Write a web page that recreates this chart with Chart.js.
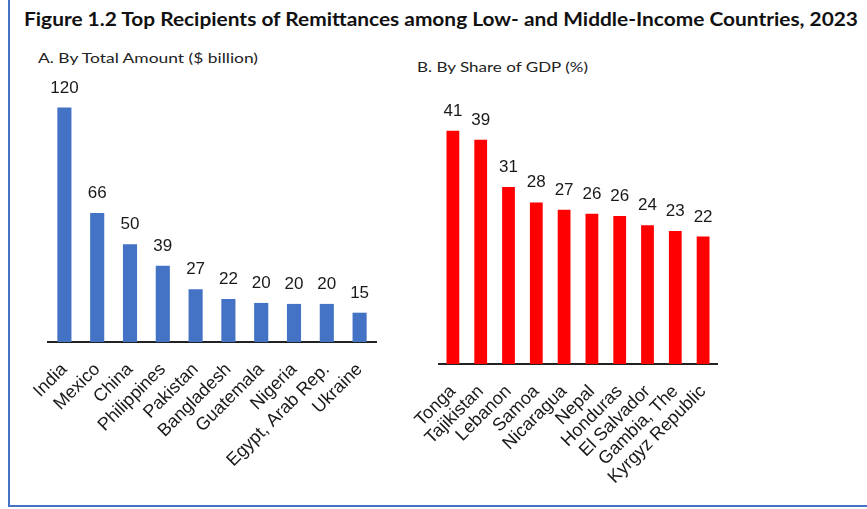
<!DOCTYPE html>
<html>
<head>
<meta charset="utf-8">
<script src="https://cdn.jsdelivr.net/npm/chart.js@4.4.1/dist/chart.umd.min.js"></script>
<style>
  html, body { margin: 0; padding: 0; background: #fff; }
  body { width: 867px; height: 509px; position: relative; overflow: hidden; }
  #frame { position: absolute; left: 8px; top: -4px; width: 870px; height: 511px;
           border-left: 2px solid #4472C4; border-bottom: 2px solid #4472C4; box-sizing: border-box; }
  .txt { position: absolute; white-space: nowrap; transform-origin: 0 0; color: #111; }
  #title { left: 24px; top: 8px; font: bold 18px Lato, "Open Sans", sans-serif; }
  #subA { left: 38px; top: 49px; font: 14px Lato, "Open Sans", sans-serif; color: #222; }
  #subB { left: 417px; top: 58px; font: 14px Lato, "Open Sans", sans-serif; color: #222; }
  #wrapA { position: absolute; left: 0; top: 0; width: 400px; height: 509px; }
  #wrapB { position: absolute; left: 380px; top: 0; width: 487px; height: 509px; }
</style>
</head>
<body>
<div id="frame"></div>
<div class="txt" id="title" data-w="834">Figure 1.2 Top Recipients of Remittances among Low- and Middle-Income Countries, 2023</div>
<div class="txt" id="subA" data-w="220">A. By Total Amount ($ billion)</div>
<div class="txt" id="subB" data-w="171">B. By Share of GDP (%)</div>
<div id="wrapA"><canvas id="chartA" width="400" height="509"></canvas></div>
<div id="wrapB"><canvas id="chartB" width="487" height="509"></canvas></div>
<script>
// ---- Data ----
const amountCountries = ['India', 'Mexico', 'China', 'Philippines', 'Pakistan', 'Bangladesh', 'Guatemala', 'Nigeria', 'Egypt, Arab Rep.', 'Ukraine'];
const amountValues = [120, 66, 50, 39, 27, 22, 20, 19.5, 19.5, 15];
const gdpCountries = ['Tonga', 'Tajikistan', 'Lebanon', 'Samoa', 'Nicaragua', 'Nepal', 'Honduras', 'El Salvador', 'Gambia, The', 'Kyrgyz Republic'];
const gdpValues = [41.0, 39.4, 31.1, 28.4, 27.1, 26.4, 26.0, 24.4, 23.4, 22.4];

// fit header texts to their measured widths
document.querySelectorAll('.txt').forEach(el => {
  const w = el.getBoundingClientRect().width;
  const target = +el.dataset.w;
  el.style.transform = 'scaleX(' + (target / w) + ')';
});

const labelPlugin = {
  id: 'valueLabels',
  afterDatasetsDraw(chart) {
    const ctx = chart.ctx;
    const meta = chart.getDatasetMeta(0);
    const data = chart.data.datasets[0].data;
    ctx.save();
    ctx.font = '17px "Liberation Sans", Arial, sans-serif';
    ctx.fillStyle = '#1a1a1a';
    ctx.textAlign = 'center';
    ctx.textBaseline = 'alphabetic';
    meta.data.forEach((bar, i) => {
      ctx.fillText(String(Math.round(data[i])), bar.x, bar.y - 15);
    });
    ctx.restore();
  }
};

function makeChart(id, labels, values, color, opts) {
  return new Chart(document.getElementById(id), {
    type: 'bar',
    data: {
      labels: labels,
      datasets: [{
        data: values,
        backgroundColor: color,
        borderWidth: 0,
        barPercentage: opts.barPct,
        categoryPercentage: 1.0
      }]
    },
    options: {
      responsive: false,
      animation: false,
      events: [],
      layout: { padding: { left: opts.left, right: opts.right, top: opts.top, bottom: 0 } },
      plugins: { legend: { display: false }, tooltip: { enabled: false }, title: { display: false } },
      scales: {
        x: {
          grid: { display: false, drawTicks: false },
          border: { display: true, color: '#222', width: 2 },
          ticks: {
            minRotation: 45, maxRotation: 45, autoSkip: false, padding: opts.tickPad,
            color: '#1a1a1a',
            font: { family: '"Liberation Sans", Arial, sans-serif', size: 18 }
          },
          afterFit: (s) => { s.height = opts.axisH; }
        },
        y: {
          display: false,
          min: 0,
          max: opts.ymax
        }
      }
    },
    plugins: [labelPlugin]
  });
}

makeChart('chartA', amountCountries, amountValues, '#4472C4',
  { left: 48, right: 24, top: 88, ymax: 130, axisH: 167, barPct: 0.43, tickPad: 17 });
makeChart('chartB', gdpCountries, gdpValues, '#FF0000',
  { left: 59, right: 150, top: 108, ymax: 45, axisH: 145, barPct: 0.46, tickPad: 17 });
</script>
</body>
</html>
